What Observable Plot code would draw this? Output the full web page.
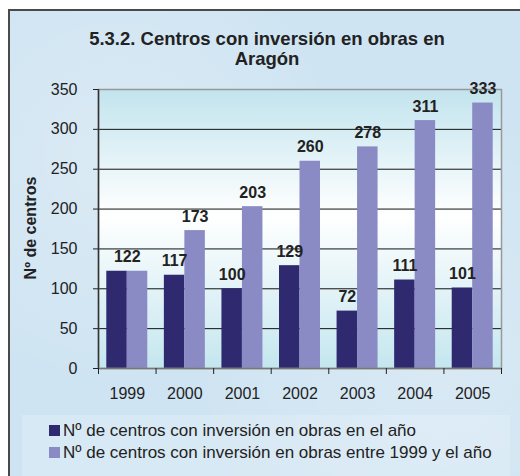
<!DOCTYPE html>
<html><head><meta charset="utf-8">
<script src="https://cdn.jsdelivr.net/npm/d3@7"></script>
<script src="https://cdn.jsdelivr.net/npm/@observablehq/plot@0.6"></script>
<style>
body{margin:0;background:#fff;font-family:"Liberation Sans",Arial,sans-serif;color:#222;}
#wrap{position:relative;width:520px;height:476px;overflow:hidden;}
#frame{position:absolute;left:8px;top:9px;width:540px;height:500px;border:2px solid #4a4a4a;
  background:#cfe4f2;
  background-image:radial-gradient(circle at 20% 30%, rgba(255,255,255,0.25) 0, rgba(255,255,255,0) 40%),
  radial-gradient(circle at 80% 70%, rgba(255,255,255,0.2) 0, rgba(255,255,255,0) 45%);}
#title{position:absolute;left:8px;width:518px;top:29px;text-align:center;font-weight:bold;font-size:18.5px;line-height:20px;}
#ylab{position:absolute;left:31px;top:228px;transform:translate(-50%,-50%) rotate(-90deg);font-weight:bold;font-size:16px;white-space:nowrap;}
#chart{position:absolute;left:0;top:80px;}
#legbox{position:absolute;left:22px;top:415px;width:488px;height:70px;background:rgba(255,255,255,0.18);}
.leg{position:absolute;left:49px;font-size:17px;line-height:18px;white-space:nowrap;}
.leg span{display:inline-block;width:11px;height:11px;margin-right:3px;vertical-align:baseline;}
</style></head>
<body>
<div id="wrap">
  <div id="frame"></div>
  <div id="title">5.3.2. Centros con inversión en obras en<br>Aragón</div>
  <div id="ylab">Nº de centros</div>
  <div id="chart"></div>
  <div id="legbox"></div>
  <div class="leg" id="leg0" style="top:422px"></div>
  <div class="leg" id="leg1" style="top:444px"></div>
</div>
<script>
const years = [1999, 2000, 2001, 2002, 2003, 2004, 2005];
const enElAnio = [122, 117, 100, 129, 72, 111, 101];
const acumulado = [122, 173, 203, 260, 278, 311, 333];
const yTicks = [0, 50, 100, 150, 200, 250, 300, 350];
const seriesNames = ["Nº de centros con inversión en obras en el año", "Nº de centros con inversión en obras entre 1999 y el año"];
const colors = ["#2f2a70", "#8a8ac4"];

const data = years.map((y, i) => ({year: y, anual: enElAnio[i], acum: acumulado[i]}));
const half = 0.356; // width of one bar in year units
const bounds = d3.range(years[0] - 0.5, years[years.length - 1] + 1, 1);
const FONT = '"Liberation Sans", Arial, sans-serif';
const labelStyle = {lineAnchor: "bottom", dy: -9, fontWeight: "bold", fontSize: 16, fontFamily: FONT, fill: "#222"};

const svg = Plot.plot({
  width: 520, height: 330,
  marginTop: 9, marginLeft: 98, marginRight: 19, marginBottom: 42,
  style: {fontFamily: FONT, fontSize: "16px", color: "#222", background: "transparent", overflow: "visible"},
  x: {domain: [years[0] - 0.5, years[years.length - 1] + 0.5], axis: null},
  y: {domain: [0, 350], axis: null},
  marks: [
    Plot.frame({fill: "url(#bgGrad)", stroke: null}),
    Plot.ruleY(yTicks.filter(v => v > 0 && v < 350), {stroke: "#111", strokeWidth: 1}),
    Plot.rectY(data, {x1: d => d.year - half, x2: d => d.year, y: "anual", fill: colors[0]}),
    Plot.rectY(data, {x1: d => d.year, x2: d => d.year + half, y: "acum", fill: colors[1]}),
    Plot.frame({stroke: "#999", strokeWidth: 1.5}),
    Plot.ruleX([years[0] - 0.5], {stroke: "#333", strokeWidth: 1.5}),
    Plot.ruleY([0], {stroke: "#777", strokeWidth: 1.5}),
    Plot.axisY({ticks: yTicks, tickSize: 5, tickFormat: () => "", label: null}),
    Plot.axisX({ticks: bounds, tickSize: 6, tickFormat: () => "", label: null}),
    Plot.text(yTicks, {y: d => d, text: d => String(d), frameAnchor: "left", textAnchor: "end", dx: -21, fontSize: 16, fontFamily: FONT, fill: "#222"}),
    Plot.text(years, {x: d => d, text: d => String(d), frameAnchor: "bottom", lineAnchor: "top", dy: 19, fontSize: 16, fontFamily: FONT, fill: "#222"}),
    Plot.text(data, {x: d => d.anual === d.acum ? d.year : d.year - half / 2, y: "anual", text: d => String(d.anual), ...labelStyle}),
    Plot.text(data.filter(d => d.anual !== d.acum), {x: d => d.year + half / 2, y: "acum", text: d => String(d.acum), ...labelStyle})
  ]
});

const ns = "http://www.w3.org/2000/svg";
const defs = document.createElementNS(ns, "defs");
const grad = document.createElementNS(ns, "linearGradient");
grad.setAttribute("id", "bgGrad");
grad.setAttribute("x1", "0"); grad.setAttribute("y1", "0");
grad.setAttribute("x2", "0"); grad.setAttribute("y2", "1");
[["0", "#c2e4ee"], ["0.45", "#ffffff"], ["1", "#c4e6ef"]].forEach(([o, c]) => {
  const s = document.createElementNS(ns, "stop");
  s.setAttribute("offset", o); s.setAttribute("stop-color", c);
  grad.appendChild(s);
});
defs.appendChild(grad);
svg.insertBefore(defs, svg.firstChild);
document.getElementById("chart").appendChild(svg);

seriesNames.forEach((n, i) => {
  const el = document.getElementById("leg" + i);
  el.innerHTML = `<span style="background:${colors[i]}"></span>` + n;
});
</script>
</body></html>
